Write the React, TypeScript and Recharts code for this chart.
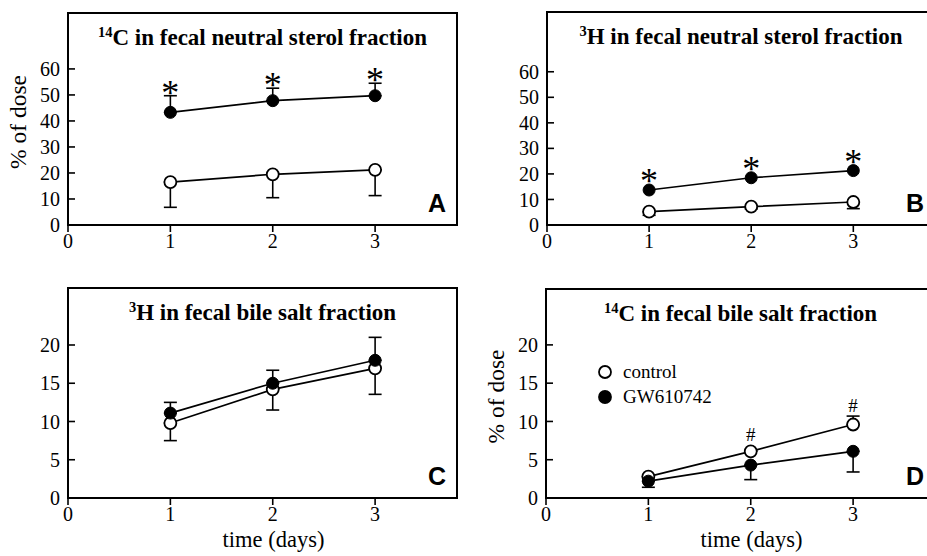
import React from 'react';
import { LineChart, Line, XAxis, YAxis, ErrorBar, ReferenceArea, ReferenceDot, Legend } from 'recharts';

const SERIF = '"Liberation Serif", "Times New Roman", Times, serif';
const SANS = '"Liberation Sans", Arial, sans-serif';

const days = [1, 2, 3];
const xTicks = [0, 1, 2, 3];
const sterolTicks = [0, 10, 20, 30, 40, 50, 60];
const bileTicks = [0, 5, 10, 15, 20];
const none = [0, 0, 0];

// A: 14C neutral sterols
const aControl = [16.5, 19.5, 21.2];
const aControlDown = [9.7, 9.0, 9.9];
const aGw = [43.3, 47.8, 49.7];
const aGwUp = [6.4, 4.8, 4.8];
const aStars = [1, 2, 3];

// B: 3H neutral sterols
const bControl = [5.2, 7.2, 9.0];
const bControlDown = [1.4, 0.9, 2.6];
const bGw = [13.7, 18.5, 21.3];
const bStars = [1, 2, 3];

// C: 3H bile salts
const cControl = [9.8, 14.2, 16.95];
const cControlDown = [2.3, 2.7, 3.4];
const cGw = [11.1, 15.0, 18.0];
const cGwUp = [1.4, 1.7, 3.0];

// D: 14C bile salts
const dControl = [2.8, 6.1, 9.6];
const dControlUp = [0, 0, 1.1];
const dGw = [2.2, 4.3, 6.1];
const dGwDown = [0.8, 1.9, 2.7];
const dHashes = [2, 3];

const legendItems = [
  { name: 'control', filled: false },
  { name: 'GW610742', filled: true },
];

const buildRows = (
  control: number[], controlLow: number[], controlHigh: number[],
  gw: number[], gwLow: number[], gwHigh: number[],
) =>
  days.map((day, i) => ({
    day,
    control: control[i],
    controlErr: [controlLow[i], controlHigh[i]],
    controlTop: control[i] + controlHigh[i],
    controlHasUp: controlHigh[i] > 0,
    gw: gw[i],
    gwErr: [gwLow[i], gwHigh[i]],
    gwTop: gw[i] + gwHigh[i],
    gwHasUp: gwHigh[i] > 0,
  }));

const openDot = { r: 6, fill: '#fff', stroke: '#000', strokeWidth: 1.8 };
const filledDot = { r: 6, fill: '#000', stroke: '#000', strokeWidth: 1 };

const renderLegend = () => (
  <div style={{ fontFamily: SERIF, fontSize: 19, color: '#000' }}>
    {legendItems.map((item) => (
      <div key={item.name} style={{ display: 'flex', alignItems: 'center', height: 25 }}>
        <svg width={16} height={16}>
          <circle cx={8} cy={8} r={6} fill={item.filled ? '#000' : '#fff'} stroke="#000" strokeWidth={1.8} />
        </svg>
        <span style={{ marginLeft: 10, fontFamily: SERIF }}>{item.name}</span>
      </div>
    ))}
  </div>
);

type PanelProps = {
  left: number;
  top: number;
  width: number;
  height: number;
  margin: { top: number; right: number; bottom: number; left: number };
  yAxisWidth: number;
  xAxisHeight: number;
  yMax: number;
  yTicks: number[];
  rows: ReturnType<typeof buildRows>;
  sup: string;
  title: string;
  letter: string;
  marks: { series: 'control' | 'gw'; days: number[]; symbol: string };
  showYLabel?: boolean;
  showXLabel?: boolean;
  showLegend?: boolean;
  controlErrors: boolean;
  gwErrors: boolean;
};

const Panel = (p: PanelProps) => {
  const frame = (props: any) => {
    const vb = props.viewBox;
    return (
      <g>
        <text x={vb.x + vb.width / 2} y={vb.y + 32} textAnchor="middle" style={{ fontFamily: SERIF }} fontWeight="bold" fontSize={23} fill="#000">
          <tspan fontSize={14.5} dy={-8}>{p.sup}</tspan>
          <tspan dy={8}>{p.title}</tspan>
        </text>
        <text x={vb.x + vb.width - 11} y={vb.y + vb.height - 13} textAnchor="end" style={{ fontFamily: SANS }} fontWeight="bold" fontSize={25} fill="#000">
          {p.letter}
        </text>
      </g>
    );
  };

  const yLabel = (props: any) => {
    const vb = props.viewBox;
    const x = vb.x + vb.width - 42;
    const y = vb.y + vb.height / 2 + 3;
    return (
      <text x={x} y={y} transform={`rotate(-90, ${x}, ${y})`} textAnchor="middle" style={{ fontFamily: SERIF }} fontSize={23.5} fill="#000">
        % of dose
      </text>
    );
  };

  const xLabel = (props: any) => {
    const vb = props.viewBox;
    return (
      <text x={vb.x + vb.width / 2 + 11} y={vb.y + 49} textAnchor="middle" style={{ fontFamily: SERIF }} fontSize={22.5} fill="#000">
        time (days)
      </text>
    );
  };

  const markShape = (hasUp: boolean) => (props: any) => {
    const anchor = hasUp ? props.cy : props.cy - 6;
    const isStar = p.marks.symbol === '*';
    const size = isStar ? 36 : 19;
    const centre = anchor - (isStar ? 8 : 11);
    const baseline = centre + (isStar ? 0.47 : 0.34) * size;
    return (
      <text x={props.cx} y={baseline} textAnchor="middle" style={{ fontFamily: SERIF }} fontSize={size} fill="#000">
        {p.marks.symbol}
      </text>
    );
  };

  const tickStyle = { fill: '#000', fontFamily: SERIF, fontSize: 20 };

  return (
    <div style={{ position: 'absolute', left: p.left, top: p.top }}>
      <LineChart width={p.width} height={p.height} data={p.rows} margin={p.margin}>
        <XAxis
          dataKey="day"
          type="number"
          domain={[0, 3.8]}
          ticks={xTicks}
          interval={0}
          axisLine={false}
          tickLine={{ stroke: '#000', strokeWidth: 1.6 }}
          tickSize={7}
          tickMargin={2}
          tick={tickStyle}
          height={p.xAxisHeight}
          label={p.showXLabel ? xLabel : undefined}
        />
        <YAxis
          type="number"
          domain={[0, p.yMax]}
          ticks={p.yTicks}
          interval={0}
          axisLine={false}
          tickLine={{ stroke: '#000', strokeWidth: 1.6 }}
          tickSize={-7}
          tickMargin={15}
          tick={tickStyle}
          width={p.yAxisWidth}
          label={p.showYLabel ? yLabel : undefined}
        />
        <ReferenceArea x1={0} x2={3.8} y1={0} y2={p.yMax} fill="none" stroke="#000" strokeWidth={2} ifOverflow="visible" label={frame} />
        <Line dataKey="control" name="control" stroke="#000" strokeWidth={1.7} dot={openDot} isAnimationActive={false}>
          {p.controlErrors && (
            <ErrorBar dataKey="controlErr" direction="y" width={6.5} stroke="#000" strokeWidth={1.6} isAnimationActive={false} />
          )}
        </Line>
        <Line dataKey="gw" name="GW610742" stroke="#000" strokeWidth={1.7} dot={filledDot} isAnimationActive={false}>
          {p.gwErrors && (
            <ErrorBar dataKey="gwErr" direction="y" width={6.5} stroke="#000" strokeWidth={1.6} isAnimationActive={false} />
          )}
        </Line>
        {p.rows
          .filter((row) => p.marks.days.includes(row.day))
          .map((row) => {
            const isGw = p.marks.series === 'gw';
            return (
              <ReferenceDot
                key={row.day}
                x={row.day}
                y={isGw ? row.gwTop : row.controlTop}
                r={0}
                shape={markShape(isGw ? row.gwHasUp : row.controlHasUp)}
              />
            );
          })}
        {p.showLegend && (
          <Legend
            layout="vertical"
            align="center"
            verticalAlign="middle"
            content={renderLegend}
            wrapperStyle={{ left: 137, top: 89, width: 'auto' }}
          />
        )}
      </LineChart>
    </div>
  );
};

export default function App() {
  return (
    <div
      style={{
        position: 'fixed',
        left: 0,
        top: 0,
        width: 927,
        height: 556,
        overflow: 'hidden',
        background: '#fff',
        fontFamily: SERIF,
      }}
    >
      <Panel
        left={0} top={0} width={465} height={270}
        margin={{ top: 13, right: 8, bottom: 0, left: 0 }}
        yAxisWidth={68} xAxisHeight={45} yMax={81.5} yTicks={sterolTicks}
        rows={buildRows(aControl, aControlDown, none, aGw, none, aGwUp)}
        sup="14" title="C in fecal neutral sterol fraction" letter="A"
        marks={{ series: 'gw', days: aStars, symbol: '*' }}
        showYLabel controlErrors gwErrors
      />
      <Panel
        left={460} top={0} width={480} height={270}
        margin={{ top: 12, right: 5, bottom: 0, left: 0 }}
        yAxisWidth={87} xAxisHeight={45} yMax={83.4} yTicks={sterolTicks}
        rows={buildRows(bControl, bControlDown, none, bGw, none, none)}
        sup="3" title="H in fecal neutral sterol fraction" letter="B"
        marks={{ series: 'gw', days: bStars, symbol: '*' }}
        controlErrors gwErrors={false}
      />
      <Panel
        left={0} top={270} width={465} height={286}
        margin={{ top: 18, right: 8, bottom: 0, left: 0 }}
        yAxisWidth={68} xAxisHeight={58} yMax={27.45} yTicks={bileTicks}
        rows={buildRows(cControl, cControlDown, none, cGw, none, cGwUp)}
        sup="3" title="H in fecal bile salt fraction" letter="C"
        marks={{ series: 'gw', days: [], symbol: '*' }}
        showXLabel controlErrors gwErrors
      />
      <Panel
        left={460} top={270} width={480} height={286}
        margin={{ top: 19, right: 5, bottom: 0, left: 0 }}
        yAxisWidth={86} xAxisHeight={58} yMax={27.3} yTicks={bileTicks}
        rows={buildRows(dControl, none, dControlUp, dGw, dGwDown, none)}
        sup="14" title="C in fecal bile salt fraction" letter="D"
        marks={{ series: 'control', days: dHashes, symbol: '#' }}
        showYLabel showXLabel showLegend controlErrors gwErrors
      />
    </div>
  );
}
